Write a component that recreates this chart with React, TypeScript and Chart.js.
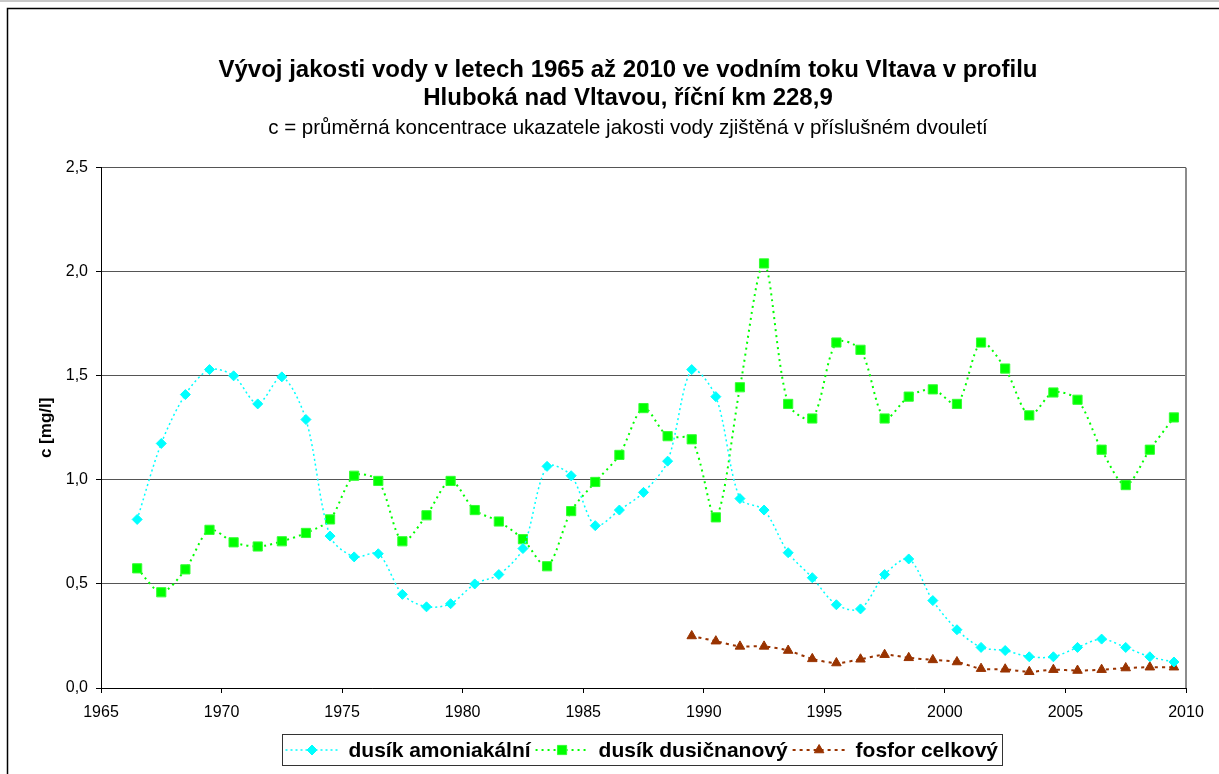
import React, { useEffect, useRef } from 'react';
import { Chart, registerables } from 'chart.js';
import { drawPoint } from 'chart.js/helpers';

Chart.register(...registerables);

const FONT = '"Liberation Sans", Arial, sans-serif';

const titleLines = [
  'Vývoj jakosti vody v letech 1965 až 2010 ve vodním toku Vltava v profilu',
  'Hluboká nad Vltavou, říční km 228,9',
];
const subtitleText = 'c = průměrná koncentrace ukazatele jakosti vody zjištěná v příslušném dvouletí';
const yAxisTitle = 'c [mg/l]';
const seriesNames = ['dusík amoniakální', 'dusík dusičnanový', 'fosfor celkový'];

const years = [
  1966.5, 1967.5, 1968.5, 1969.5, 1970.5, 1971.5, 1972.5, 1973.5, 1974.5, 1975.5, 1976.5,
  1977.5, 1978.5, 1979.5, 1980.5, 1981.5, 1982.5, 1983.5, 1984.5, 1985.5, 1986.5, 1987.5,
  1988.5, 1989.5, 1990.5, 1991.5, 1992.5, 1993.5, 1994.5, 1995.5, 1996.5, 1997.5, 1998.5,
  1999.5, 2000.5, 2001.5, 2002.5, 2003.5, 2004.5, 2005.5, 2006.5, 2007.5, 2008.5, 2009.5,
];

const ammonium = [
  0.81, 1.175, 1.41, 1.53, 1.5, 1.365, 1.495, 1.29, 0.73, 0.63, 0.645,
  0.45, 0.39, 0.405, 0.5, 0.545, 0.67, 1.065, 1.02, 0.78, 0.855, 0.94,
  1.09, 1.53, 1.4, 0.91, 0.855, 0.65, 0.53, 0.4, 0.38, 0.545, 0.62,
  0.42, 0.28, 0.195, 0.18, 0.15, 0.15, 0.195, 0.235, 0.195, 0.15, 0.125,
];

const nitrate = [
  0.575, 0.46, 0.57, 0.76, 0.7, 0.68, 0.705, 0.745, 0.81, 1.02, 0.995,
  0.705, 0.83, 0.995, 0.855, 0.8, 0.715, 0.585, 0.85, 0.99, 1.12, 1.345,
  1.21, 1.195, 0.82, 1.445, 2.04, 1.365, 1.295, 1.66, 1.625, 1.295, 1.4,
  1.435, 1.365, 1.66, 1.535, 1.31, 1.42, 1.385, 1.145, 0.975, 1.145, 1.3,
];

const phosphorus: (number | null)[] = [
  null, null, null, null, null, null, null, null, null, null, null,
  null, null, null, null, null, null, null, null, null, null, null,
  null, 0.25, 0.225, 0.2, 0.2, 0.18, 0.14, 0.12, 0.138, 0.16, 0.145,
  0.135, 0.125, 0.093, 0.09, 0.078, 0.088, 0.084, 0.088, 0.096, 0.1, 0.1,
];

const xMin = 1965;
const xMax = 2010;
const xStep = 5;
const yMin = 0;
const yMax = 2.5;
const yStep = 0.5;

const toPoints = (vals: (number | null)[]) => years.map((x, i) => ({ x, y: vals[i] }));

const framePlugin = {
  id: 'frameLegend',
  afterLayout(chart: any) {
    // centre the title block over the area used in the original (shifted right)
    chart.boxes.forEach((b: any) => {
      if (b.position === 'top' && b.options && b.options.text !== undefined && b.isHorizontal && b.isHorizontal()) {
        b.left = 70;
        b.width = b.right - b.left;
      }
    });
  },
  beforeDraw(chart: any) {
    const ctx = chart.ctx;
    ctx.save();
    ctx.fillStyle = '#ffffff';
    ctx.fillRect(0, 0, chart.width, chart.height);
    ctx.strokeStyle = '#c8c8c8';
    ctx.lineWidth = 2;
    ctx.beginPath();
    ctx.moveTo(0, 1);
    ctx.lineTo(chart.width, 1);
    ctx.stroke();
    ctx.strokeStyle = '#000000';
    ctx.lineWidth = 1.5;
    ctx.beginPath();
    ctx.moveTo(7.5, chart.height);
    ctx.lineTo(7.5, 8.5);
    ctx.lineTo(chart.width, 8.5);
    ctx.stroke();
    ctx.restore();
  },
  beforeDatasetsDraw(chart: any) {
    const { ctx, chartArea } = chart;
    ctx.save();
    ctx.strokeStyle = '#8c8c8c';
    ctx.lineWidth = 2;
    ctx.beginPath();
    ctx.moveTo(chartArea.right, chartArea.top);
    ctx.lineTo(chartArea.right, chartArea.bottom);
    ctx.stroke();
    ctx.restore();
  },
  afterDraw(chart: any) {
    const ctx = chart.ctx;
    const ds = chart.data.datasets;
    ctx.save();
    ctx.font = `bold 21px ${FONT}`;
    const symLen = 53;
    const gapSymText = 10;
    const gapItems = 5;
    const padL = 3;
    const padR = 5;
    const widths = ds.map((d: any) => ctx.measureText(d.label).width);
    let total = padL + padR;
    widths.forEach((w: number, i: number) => {
      total += symLen + gapSymText + w + (i < widths.length - 1 ? gapItems : 0);
    });
    const cx = 642;
    const boxL = Math.round(cx - total / 2) + 0.5;
    const boxT = 734.5;
    const boxH = 31;
    ctx.strokeStyle = '#333333';
    ctx.lineWidth = 1;
    ctx.strokeRect(boxL, boxT, Math.round(total), boxH);
    const midY = boxT + boxH / 2;
    let x = boxL + padL;
    ds.forEach((d: any, i: number) => {
      ctx.strokeStyle = d.borderColor;
      ctx.lineWidth = d.borderWidth;
      ctx.setLineDash(d.borderDash || []);
      ctx.beginPath();
      ctx.moveTo(x, midY);
      ctx.lineTo(x + symLen, midY);
      ctx.stroke();
      ctx.setLineDash([]);
      ctx.fillStyle = d.pointBackgroundColor;
      ctx.strokeStyle = d.pointBorderColor;
      ctx.lineWidth = 1;
      drawPoint(ctx, { pointStyle: d.pointStyle, radius: d.pointRadius, rotation: 0, borderWidth: 1 }, x + symLen / 2, midY);
      x += symLen + gapSymText;
      ctx.fillStyle = '#000000';
      ctx.textBaseline = 'middle';
      ctx.textAlign = 'left';
      ctx.fillText(d.label, x, midY + 1);
      x += widths[i] + gapItems;
    });
    ctx.restore();
  },
};

export default function App() {
  const ref = useRef<HTMLCanvasElement | null>(null);

  useEffect(() => {
    if (!ref.current) return;
    Chart.defaults.font.family = FONT;
    Chart.defaults.color = '#000000';
    const chart = new Chart(ref.current, {
      type: 'line',
      data: {
        datasets: [
          {
            label: seriesNames[0],
            data: toPoints(ammonium),
            borderColor: '#00ffff',
            backgroundColor: '#00ffff',
            borderWidth: 1.5,
            borderDash: [2, 3],
            pointStyle: 'rectRot',
            pointRadius: 5,
            pointBackgroundColor: '#00ffff',
            pointBorderColor: '#00ffff',
            pointBorderWidth: 1,
            tension: 0.3,
          },
          {
            label: seriesNames[1],
            data: toPoints(nitrate),
            borderColor: '#00ff00',
            backgroundColor: '#00ff00',
            borderWidth: 2,
            borderDash: [2, 4],
            pointStyle: 'rect',
            pointRadius: 6.5,
            pointBackgroundColor: '#00ff00',
            pointBorderColor: '#33ff33',
            pointBorderWidth: 1,
            tension: 0.3,
          },
          {
            label: seriesNames[2],
            data: toPoints(phosphorus),
            borderColor: '#993300',
            backgroundColor: '#993300',
            borderWidth: 2,
            borderDash: [3, 4],
            pointStyle: 'triangle',
            pointRadius: 5.5,
            pointBackgroundColor: '#993300',
            pointBorderColor: '#993300',
            pointBorderWidth: 1,
            tension: 0.3,
            spanGaps: false,
          },
        ],
      },
      options: {
        animation: false,
        responsive: false,
        events: [],
        layout: { padding: { left: 0, right: 33, top: 56, bottom: 56 } },
        plugins: {
          legend: { display: false },
          tooltip: { enabled: false },
          title: {
            display: true,
            text: titleLines,
            color: '#000000',
            font: { size: 24, weight: 'bold', family: FONT, lineHeight: 1.17 },
            padding: { top: 0, bottom: 0 },
          },
          subtitle: {
            display: true,
            text: subtitleText,
            color: '#000000',
            font: { size: 20.5, family: FONT, lineHeight: 1.1 },
            padding: { top: 5, bottom: 28 },
          },
        },
        scales: {
          x: {
            type: 'linear',
            min: xMin,
            max: xMax,
            offset: false,
            afterFit: (s: any) => { s.height = 30; },
            border: { display: true, color: '#000000', width: 1 },
            grid: { drawOnChartArea: false, drawTicks: true, tickLength: 5, color: '#000000', tickColor: '#000000' },
            ticks: {
              stepSize: xStep,
              padding: 10,
              maxRotation: 0,
              color: '#000000',
              font: { size: 16, family: FONT },
              callback: (v: any) => String(v),
            },
          },
          y: {
            type: 'linear',
            min: yMin,
            max: yMax,
            afterFit: (s: any) => { s.width = 101; },
            border: { display: true, color: '#000000', width: 1 },
            grid: { color: '#555555', lineWidth: 1, tickLength: 5, tickColor: '#000000' },
            title: {
              display: true,
              text: yAxisTitle,
              color: '#000000',
              font: { size: 17, weight: 'bold', family: FONT, lineHeight: 1.2 },
              padding: { top: 36, bottom: 0 },
            },
            ticks: {
              stepSize: yStep,
              padding: 8,
              color: '#000000',
              font: { size: 16, family: FONT },
              callback: (v: any) => Number(v).toFixed(1).replace('.', ','),
            },
          },
        },
      },
      plugins: [framePlugin],
    } as any);
    return () => chart.destroy();
  }, []);

  return (
    <div style={{ position: 'fixed', left: 0, top: 0, width: 1219, height: 774, overflow: 'hidden', background: '#fff' }}>
      <canvas ref={ref} width={1219} height={774} style={{ display: 'block', width: 1219, height: 774 }} />
    </div>
  );
}
